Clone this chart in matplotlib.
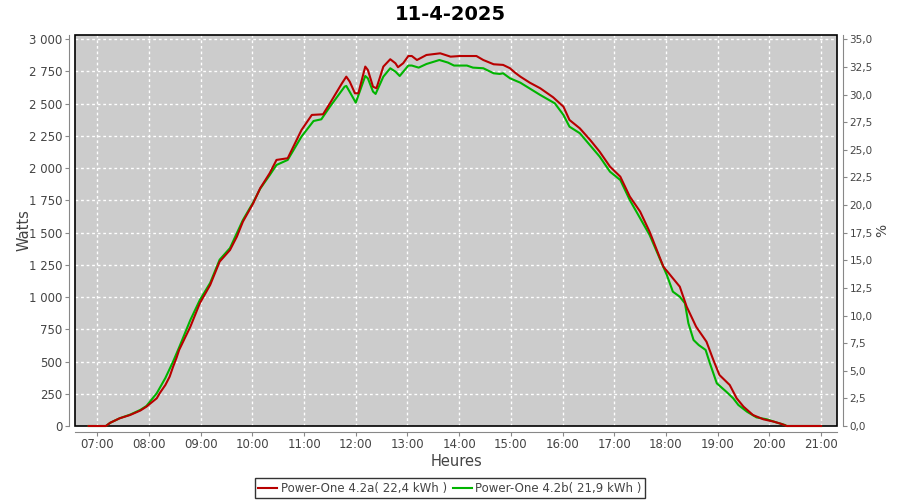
import matplotlib
matplotlib.use("Agg")
import matplotlib.pyplot as plt
from matplotlib.patches import Rectangle
from matplotlib.ticker import FuncFormatter, MultipleLocator

# Power-One 4.2a readings (time, watts)
times_a = ["06:50", "07:10", "07:15", "07:26", "07:38", "07:50", "07:57", "08:09", "08:13",
           "08:19", "08:24", "08:28", "08:32", "08:35", "08:48", "08:59", "09:11", "09:22",
           "09:34", "09:42", "09:49", "10:01", "10:09", "10:20", "10:28", "10:41", "10:57",
           "11:09", "11:22", "11:30", "11:44", "11:49", "11:53", "11:59", "12:03", "12:11",
           "12:14", "12:20", "12:24", "12:32", "12:40", "12:46", "12:49", "12:55", "13:01",
           "13:05", "13:11", "13:22", "13:38", "13:50", "14:01", "14:20", "14:28", "14:40",
           "14:51", "14:59", "15:05", "15:11", "15:22", "15:34", "15:49", "16:01", "16:08",
           "16:20", "16:32", "16:43", "16:55", "17:07", "17:18", "17:30", "17:41", "17:57",
           "18:08", "18:16", "18:24", "18:35", "18:47", "18:55", "19:02", "19:14", "19:22",
           "19:30", "19:41", "19:53", "20:05", "20:14", "20:20", "21:00"]
watts_a = [0, 0, 25, 60, 85, 120, 150, 215, 260,
           318, 383, 460, 530, 590, 770, 952, 1094, 1275,
           1365, 1469, 1585, 1728, 1844, 1960, 2064, 2077, 2296,
           2413, 2418, 2503, 2659, 2710, 2671, 2581, 2581, 2788,
           2762, 2632, 2620, 2788, 2845, 2814, 2783, 2814, 2870,
           2870, 2839, 2878, 2891, 2865, 2870, 2870, 2839, 2806,
           2801, 2775, 2740, 2710, 2663, 2620, 2550, 2477, 2374,
           2309, 2219, 2128, 2012, 1934, 1780, 1663, 1507, 1236,
           1146, 1081, 926, 770, 654, 512, 396, 318, 215,
           150, 85, 52, 34, 16, 0, 0]

# Power-One 4.2b readings (time, watts)
times_b = ["06:50", "07:10", "07:15", "07:26", "07:38", "07:50", "07:57", "08:09", "08:19",
           "08:28", "08:35", "08:48", "08:59", "09:11", "09:22", "09:34", "09:49", "10:01",
           "10:09", "10:20", "10:28", "10:41", "10:57", "11:11", "11:20", "11:30", "11:47",
           "11:49", "11:55", "12:00", "12:11", "12:14", "12:20", "12:23", "12:32", "12:40",
           "12:46", "12:51", "13:01", "13:05", "13:13", "13:22", "13:37", "13:47", "13:54",
           "14:09", "14:16", "14:28", "14:40", "14:47", "14:51", "14:59", "15:11", "15:34",
           "15:51", "16:01", "16:08", "16:20", "16:43", "16:55", "17:07", "17:18", "17:41",
           "18:01", "18:08", "18:16", "18:22", "18:26", "18:32", "18:38", "18:46", "18:51",
           "18:59", "19:10", "19:18", "19:24", "19:34", "19:45", "19:57", "20:08", "20:18",
           "20:20", "21:00"]
watts_b = [0, 0, 25, 60, 88, 125, 155, 254, 372,
           500, 610, 822, 977, 1110, 1290, 1380, 1598, 1735,
           1840, 1945, 2025, 2064, 2245, 2366, 2379, 2477, 2632,
           2638, 2568, 2508, 2715, 2697, 2594, 2576, 2710, 2775,
           2749, 2715, 2796, 2796, 2780, 2808, 2839, 2819, 2796,
           2796, 2780, 2775, 2736, 2731, 2736, 2697, 2663, 2568,
           2503, 2413, 2322, 2271, 2090, 1973, 1908, 1753, 1482,
           1171, 1042, 1003, 952, 797, 667, 628, 590, 486,
           331, 266, 215, 163, 111, 67, 52, 28, 8,
           0, 0]

labels = ["Power-One 4.2a( 22,4 kWh )", "Power-One 4.2b( 21,9 kWh )"]
hours = [7, 8, 9, 10, 11, 12, 13, 14, 15, 16, 17, 18, 19, 20, 21]


def to_hours(t):
    h, m = t.split(":")
    return int(h) + int(m) / 60.0


grey = "#444444"
axis_grey = "#888888"

fig = plt.figure(figsize=(9, 5), dpi=100)
ax = fig.add_axes([75 / 900, 74 / 500, 762 / 900, 391 / 500])
ax.set_facecolor("#cccccc")

ax.plot([to_hours(t) for t in times_a], watts_a, color="#b80000", lw=1.5,
        label=labels[0], zorder=7, clip_on=False)
ax.plot([to_hours(t) for t in times_b], watts_b, color="#00b400", lw=1.5,
        label=labels[1], zorder=6, clip_on=False)

ymax = 3033
ax.set_xlim(6.569, 21.308)
ax.set_ylim(0, ymax)
ax.set_xticks(hours)
ax.set_xticklabels(["%02d:00" % h for h in hours])
ax.yaxis.set_major_locator(MultipleLocator(250))
ax.yaxis.set_major_formatter(FuncFormatter(lambda v, p: f"{int(v):,}".replace(",", " ")))
ax.grid(True, color="white", ls=(0, (2, 2)), lw=1)
ax.set_axisbelow(True)

for s in ["top", "right"]:
    ax.spines[s].set_visible(False)
for s in ["left", "bottom"]:
    ax.spines[s].set_position(("outward", 4))
    ax.spines[s].set_color(axis_grey)
ax.tick_params(direction="out", length=3, color=axis_grey, labelcolor=grey,
               labelsize=8.5, pad=2)

ax.add_patch(Rectangle((0, 0), 1, 1, transform=ax.transAxes, fill=False,
                       ec="black", lw=1.2, zorder=5, clip_on=False))

ax2 = ax.twinx()
ax2.set_ylim(0, 35 * ymax / 3000)
ax2.yaxis.set_major_locator(MultipleLocator(2.5))
ax2.yaxis.set_major_formatter(FuncFormatter(lambda v, p: f"{v:.1f}".replace(".", ",")))
for s in ["top", "left", "bottom"]:
    ax2.spines[s].set_visible(False)
ax2.spines["right"].set_position(("outward", 4))
ax2.spines["right"].set_color(axis_grey)
ax2.tick_params(direction="out", length=3, color=axis_grey, labelcolor=grey,
                labelsize=7.5, pad=2)

ax.set_ylabel("Watts", fontsize=10.5, color=grey, labelpad=-2)
ax.set_xlabel("Heures", fontsize=10.5, color=grey, labelpad=2)
ax2.set_ylabel("%", fontsize=10, color=grey, labelpad=2)

fig.suptitle("11-4-2025", fontsize=14, fontweight="bold", y=0.99)

leg = fig.legend(loc="lower center", bbox_to_anchor=(0.5, 0.0), ncol=2, fontsize=8.5,
                 frameon=True, fancybox=False, handlelength=1.6, handletextpad=0.3,
                 columnspacing=0.5, borderpad=0.3, borderaxespad=0.15)
leg.get_frame().set_edgecolor("black")
leg.get_frame().set_linewidth(1)
for t in leg.get_texts():
    t.set_color(grey)

fig.savefig("out.png", dpi=100)
